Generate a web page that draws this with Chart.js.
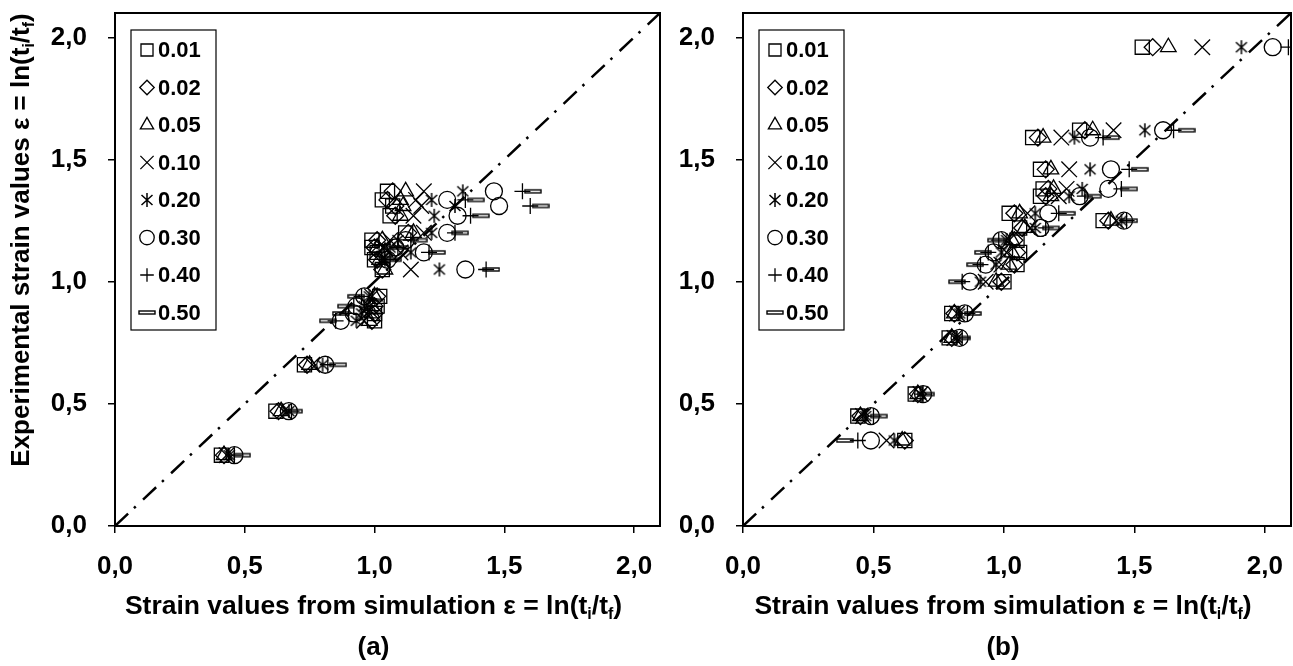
<!DOCTYPE html>
<html>
<head>
<meta charset="utf-8">
<script src="https://cdn.jsdelivr.net/npm/chart.js@4.4.1/dist/chart.umd.min.js"></script>
<style>
  html, body { margin: 0; padding: 0; background: #fff; }
  #wrap { position: relative; width: 1293px; height: 666px; }
  #chartA { position: absolute; left: 0; top: 0; }
  #chartB { position: absolute; left: 680px; top: 0; }
</style>
</head>
<body>
<div id="wrap">
  <canvas id="chartA" width="680" height="666"></canvas>
  <canvas id="chartB" width="613" height="666"></canvas>
</div>
<script>
// ---- data ----
const coefficients = ['0.01', '0.02', '0.05', '0.10', '0.20', '0.30', '0.40', '0.50'];
const tickValues = [0, 0.5, 1.0, 1.5, 2.0];
const diagonal = [0, 2.1];

// (a) experimental strain (one value per experiment)
const expA = [0.29, 0.47, 0.66, 0.84, 0.87, 0.90, 0.94, 1.05, 1.09, 1.12, 1.14, 1.17, 1.20, 1.27, 1.31, 1.335, 1.37];
// (a) simulated strain, one array per coefficient
const simA_001 = [0.41, 0.62, 0.73, 1.00, 1.00, 1.01, 1.02, 1.03, 1.00, 1.01, 0.99, 0.99, 1.12, 1.06, 1.07, 1.03, 1.05];
const simA_002 = [0.42, 0.63, 0.74, 0.99, 1.00, 1.00, 1.01, 1.03, 1.01, 1.02, 1.00, 1.01, 1.13, 1.08, 1.08, 1.05, 1.07];
const simA_005 = [0.42, 0.64, 0.75, 0.98, 0.99, 0.99, 1.00, 1.04, 1.02, 1.04, 1.01, 1.03, 1.15, 1.10, 1.11, 1.10, 1.12];
const simA_010 = [0.43, 0.65, 0.76, 0.96, 0.97, 0.98, 0.99, 1.14, 1.03, 1.10, 1.04, 1.06, 1.19, 1.15, 1.18, 1.16, 1.19];
const simA_020 = [0.44, 0.67, 0.80, 0.93, 0.95, 0.96, 0.98, 1.25, 1.04, 1.14, 1.06, 1.09, 1.22, 1.23, 1.31, 1.22, 1.34];
const simA_030 = [0.46, 0.67, 0.81, 0.87, 0.92, 0.93, 0.96, 1.35, 1.05, 1.19, 1.08, 1.12, 1.28, 1.32, 1.48, 1.28, 1.46];
const simA_040 = [0.46, 0.68, 0.82, 0.85, 0.90, 0.92, 0.95, 1.43, 1.06, 1.21, 1.09, 1.14, 1.31, 1.37, 1.60, 1.35, 1.57];
const simA_050 = [0.49, 0.69, 0.86, 0.82, 0.87, 0.89, 0.93, 1.45, 1.07, 1.24, 1.10, 1.17, 1.33, 1.41, 1.64, 1.39, 1.61];

// (b)
const expB = [0.35, 0.45, 0.54, 0.77, 0.87, 1.00, 1.07, 1.12, 1.17, 1.22, 1.25, 1.28, 1.35, 1.38, 1.46, 1.59, 1.62, 1.96];
const simB_001 = [0.62, 0.44, 0.66, 0.79, 0.80, 1.00, 1.05, 1.06, 1.05, 1.06, 1.38, 1.02, 1.14, 1.15, 1.14, 1.11, 1.29, 1.53];
const simB_002 = [0.62, 0.45, 0.67, 0.80, 0.81, 0.99, 1.04, 1.05, 1.04, 1.07, 1.40, 1.04, 1.16, 1.17, 1.16, 1.13, 1.31, 1.57];
const simB_005 = [0.61, 0.45, 0.67, 0.80, 0.81, 0.97, 1.02, 1.03, 1.03, 1.08, 1.41, 1.06, 1.18, 1.19, 1.18, 1.15, 1.34, 1.63];
const simB_010 = [0.55, 0.46, 0.68, 0.81, 0.82, 0.93, 0.99, 1.01, 1.02, 1.10, 1.43, 1.09, 1.21, 1.24, 1.25, 1.22, 1.42, 1.76];
const simB_020 = [0.58, 0.47, 0.68, 0.82, 0.83, 0.91, 0.97, 0.99, 1.01, 1.12, 1.45, 1.12, 1.25, 1.30, 1.33, 1.27, 1.54, 1.91];
const simB_030 = [0.49, 0.49, 0.69, 0.83, 0.85, 0.87, 0.93, 0.96, 0.99, 1.14, 1.46, 1.17, 1.29, 1.40, 1.41, 1.33, 1.61, 2.03];
const simB_040 = [0.44, 0.50, 0.69, 0.84, 0.86, 0.84, 0.91, 0.94, 0.98, 1.16, 1.47, 1.21, 1.31, 1.45, 1.48, 1.38, 1.65, 2.09];
const simB_050 = [0.39, 0.52, 0.70, 0.84, 0.88, 0.82, 0.89, 0.92, 0.97, 1.18, 1.48, 1.24, 1.34, 1.48, 1.52, 1.41, 1.70, null];

const seriesA = [simA_001, simA_002, simA_005, simA_010, simA_020, simA_030, simA_040, simA_050];
const seriesB = [simB_001, simB_002, simB_005, simB_010, simB_020, simB_030, simB_040, simB_050];

// axis titles (text, subscript?)
const xTitle = [['Strain values from simulation ε = ln(t', false], ['i', true], ['/t', false], ['f', true], [')', false]];
const yTitle = [['Experimental strain values ε = ln(t', false], ['i', true], ['/t', false], ['f', true], [')', false]];

const FONT = "'Liberation Sans', Arial, Helvetica, sans-serif";

// ---- custom markers (asterisk and hollow dash) ----
function makeAsterisk() {
    const c = document.createElement('canvas');
    c.width = 16; c.height = 16;
    const g = c.getContext('2d');
    g.strokeStyle = '#000';
    g.lineWidth = 1.5;
    g.beginPath();
    g.moveTo(8, 1); g.lineTo(8, 15);
    g.moveTo(2.5, 3); g.lineTo(13.5, 13);
    g.moveTo(13.5, 3); g.lineTo(2.5, 13);
    g.stroke();
    return c;
}

function makeDash() {
    const c = document.createElement('canvas');
    c.width = 18; c.height = 7;
    const g = c.getContext('2d');
    g.strokeStyle = '#000';
    g.lineWidth = 1.4;
    g.strokeRect(1, 2, 16, 3);
    return c;
}

const markerStyles = ['rect', 'rectRot', 'triangle', 'crossRot', makeAsterisk(), 'circle', 'cross', makeDash()];
const markerRadius = [10, 8.5, 9, 11, 8, 8.5, 8, 8];

// text with subscripts, centred on (cx, cy)
function drawRich(ctx, parts, cx, cy, size) {
    const big = `bold ${size}px ${FONT}`;
    const small = `bold ${Math.round(size * 0.62)}px ${FONT}`;
    let total = 0;
    parts.forEach(([t, sub]) => { ctx.font = sub ? small : big; total += ctx.measureText(t).width; });
    let x = cx - total / 2;
    ctx.textAlign = 'left';
    ctx.textBaseline = 'middle';
    parts.forEach(([t, sub]) => {
        ctx.font = sub ? small : big;
        ctx.fillText(t, x, sub ? cy + size * 0.3 : cy);
        x += ctx.measureText(t).width;
    });
}

// frame, legend box, titles
function decorPlugin(cfg) {
    return {
        id: 'decor',
        afterDraw(chart) {
            const ctx = chart.ctx;
            const a = chart.chartArea;
            ctx.save();
            ctx.strokeStyle = '#000';
            ctx.lineWidth = 2;
            ctx.strokeRect(a.left, a.top, a.right - a.left, a.bottom - a.top);

            // legend
            const lx = a.left + 16, ly = 30;
            ctx.lineWidth = 1.2;
            ctx.strokeRect(lx, ly, 85, 300);
            coefficients.forEach((c, i) => {
                const y = ly + 20 + i * 37.5;
                ctx.strokeStyle = '#000';
                ctx.fillStyle = 'rgba(0,0,0,0)';
                ctx.lineWidth = 1.3;
                Chart.helpers.drawPoint(ctx, {
                    pointStyle: markerStyles[i], radius: markerRadius[i] * 0.85, rotation: 0, borderWidth: 1.3
                }, lx + 16, y);
                ctx.fillStyle = '#000';
                ctx.font = `bold 22px ${FONT}`;
                ctx.textAlign = 'left';
                ctx.textBaseline = 'middle';
                ctx.fillText(c, lx + 27, y + 1);
            });

            // titles (set slightly left of the plot centre, as in the figure)
            ctx.fillStyle = '#000';
            const cx = (a.left + a.right) / 2 - 14;
            drawRich(ctx, xTitle, cx, 607, 26.5);
            ctx.font = `bold 26px ${FONT}`;
            ctx.textAlign = 'center';
            ctx.textBaseline = 'middle';
            ctx.fillText(cfg.caption, cx, 648);
            if (cfg.yTitle) {
                ctx.translate(22, 240);
                ctx.rotate(-Math.PI / 2);
                drawRich(ctx, yTitle, 0, 0, 26);
            }
            ctx.restore();
        }
    };
}

function axis(position, fit) {
    return {
        type: 'linear',
        position,
        min: diagonal[0],
        max: diagonal[1],
        afterBuildTicks: s => { s.ticks = tickValues.map(v => ({ value: v })); },
        afterFit: fit,
        ticks: {
            color: '#000',
            font: { family: FONT, size: 26, weight: 'bold' },
            padding: position === 'left' ? 21 : 18,
            maxRotation: 0,
            autoSkip: false,
            callback: v => Number(v).toFixed(1).replace('.', ',')
        },
        grid: { drawOnChartArea: false, drawTicks: true, tickLength: 7, color: '#000', lineWidth: 1.5 },
        border: { display: true, color: '#000', width: 2 }
    };
}

function buildChart(id, exp, series, yWidth, rightPad, caption, withYTitle) {
    const datasets = [{
        type: 'line',
        data: diagonal.map(v => ({ x: v, y: v })),
        borderColor: '#000',
        borderWidth: 2.5,
        borderDash: [18, 8, 2.5, 10],
        pointRadius: 0,
        fill: false
    }];
    series.forEach((sim, k) => {
        datasets.push({
            type: 'scatter',
            label: coefficients[k],
            data: exp.map((y, i) => ({ x: sim[i], y })),
            pointStyle: markerStyles[k],
            pointRadius: markerRadius[k],
            pointBorderWidth: 1.3,
            pointBorderColor: '#000',
            pointBackgroundColor: 'rgba(0,0,0,0)',
            showLine: false
        });
    });

    return new Chart(document.getElementById(id), {
        data: { datasets },
        options: {
            responsive: false,
            animation: false,
            layout: { autoPadding: false, padding: { top: 13, right: rightPad, left: 0, bottom: 0 } },
            plugins: { legend: { display: false }, tooltip: { enabled: false } },
            scales: {
                x: axis('bottom', s => { s.height = 140; s.paddingLeft = 0; s.paddingRight = 0; }),
                y: axis('left', s => { s.width = yWidth; s.paddingTop = 0; s.paddingBottom = 0; })
            }
        },
        plugins: [decorPlugin({ caption, yTitle: withYTitle })]
    });
}

buildChart('chartA', expA, seriesA, 115, 20, '(a)', true);
buildChart('chartB', expB, seriesB, 63, 2, '(b)', false);
</script>
</body>
</html>
